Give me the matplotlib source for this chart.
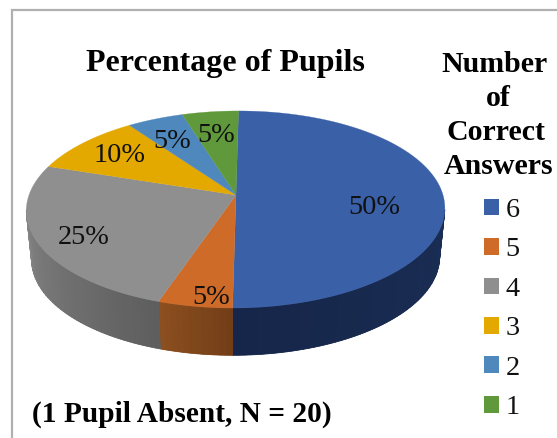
import numpy as np
import matplotlib
matplotlib.use("Agg")
import matplotlib.pyplot as plt
from matplotlib.patches import Patch

# Data, clockwise from 12 o'clock
categories = ["6", "5", "4", "3", "2", "1"]
percent = [50, 5, 25, 10, 5, 5]
title = "Percentage of Pupils"
legend_title = ["Number", "of", "Correct", "Answers"]
note = "(1 Pupil Absent, N = 20)"

colors = ["#3A60A8", "#CE6B28", "#8F8F8F", "#E3A900", "#4E88BC", "#5F993C"]
side_start = ["#1B2E55", "#733E17", "#5E5E5E", "#8A6600", "#2E5272", "#3A5C24"]
side_end = ["#16264A", "#8C4F20", "#858585", "#8A6600", "#2E5272", "#3A5C24"]
label_pos = [(374, 207), (211, 297), (84, 237), (120, 155), (172, 141), (216, 135)]
legend_title_pos = [(495, 62), (498, 96), (496, 130), (499, 164)]

W, H = 557, 438
plt.rcParams["font.family"] = "Liberation Serif"
fig = plt.figure(figsize=(W / 100, H / 100), dpi=100, facecolor="white")
ax = fig.add_axes([0, 0, 1, 1])
ax.set_xlim(0, W)
ax.set_ylim(H, 0)
ax.axis("off")

CX, CY, S, K, C, SHEAR = 236, 195, 207, 96.4, 0.147, 0.03
DEPTH, SHRINK = 49, 0.975
SIDE_LO, SIDE_HI = 0.547 * np.pi, 1.453 * np.pi


def project(theta, lower=False):
    """Perspective view of the pie rim; theta is clockwise from the top."""
    x, y = np.sin(theta), np.cos(theta)
    den = 1 + C * y
    u = K * y / den
    px = S * x / den + SHEAR * u
    if lower:
        return CX + px * SHRINK, CY - u * 0.985 + DEPTH
    return CX + px, CY - u


def hex_rgb(h):
    return np.array(matplotlib.colors.to_rgb(h))


fracs = np.array(percent) / sum(percent)
edges = np.concatenate([[0], np.cumsum(fracs)]) * 2 * np.pi

# Side wall: a solid band per slice, then a shaded strip overlay
for i in range(len(percent)):
    lo, hi = max(edges[i], SIDE_LO), min(edges[i + 1], SIDE_HI)
    if hi <= lo:
        continue
    ts = np.linspace(lo, hi, 200)
    ux, uy = project(ts)
    lx, ly = project(ts, lower=True)
    mid = (hex_rgb(side_start[i]) + hex_rgb(side_end[i])) / 2
    ax.fill(np.r_[ux, lx[::-1]], np.r_[uy, ly[::-1]], color=mid, lw=0, zorder=2)
    n = max(int((hi - lo) * 40), 2)
    t = np.linspace(lo, hi, n + 1)
    for j in range(n):
        f = j / max(n - 1, 1)
        col = hex_rgb(side_start[i]) * (1 - f) + hex_rgb(side_end[i]) * f
        tj = np.linspace(t[j], t[j + 1], 4)
        ux, uy = project(tj)
        lx, ly = project(tj, lower=True)
        ax.fill(np.r_[ux, lx[::-1]], np.r_[uy, ly[::-1]], color=col, lw=0.5, zorder=2)

# Top face
for i, c in enumerate(colors):
    ts = np.linspace(edges[i], edges[i + 1], 120)
    ux, uy = project(ts)
    ax.fill(np.r_[CX, ux], np.r_[CY, uy], color=c, lw=0.2, zorder=3)

for v, (lx, ly) in zip(percent, label_pos):
    ax.text(lx, ly, f"{v}%", fontsize=20.3, ha="center", va="center", color="#111111", zorder=5)

ax.text(225.5, 64, title, fontsize=23, fontweight="bold", ha="center", va="center")
for line, (tx, ty) in zip(legend_title, legend_title_pos):
    ax.text(tx, ty, line, fontsize=21.5, fontweight="bold", ha="center", va="center_baseline")
ax.text(182, 414, note, fontsize=21.2, fontweight="bold", ha="center", va="center")

handles = [Patch(facecolor=c, edgecolor="none", label=n) for c, n in zip(colors, categories)]
ax.legend(handles=handles, loc="upper left", bbox_to_anchor=(484 / W, 1 - 198 / H), frameon=False,
          fontsize=20.3, handlelength=0.54, handleheight=0.54, handletextpad=0.22,
          labelspacing=0.513, borderpad=0, borderaxespad=0, labelcolor="#111111")

# Chart frame
ax.plot([12, 12, W], [H, 10, 10], color="#B0B0B0", lw=1.6, solid_joinstyle="miter", zorder=1)

fig.savefig("out.png", dpi=100)
